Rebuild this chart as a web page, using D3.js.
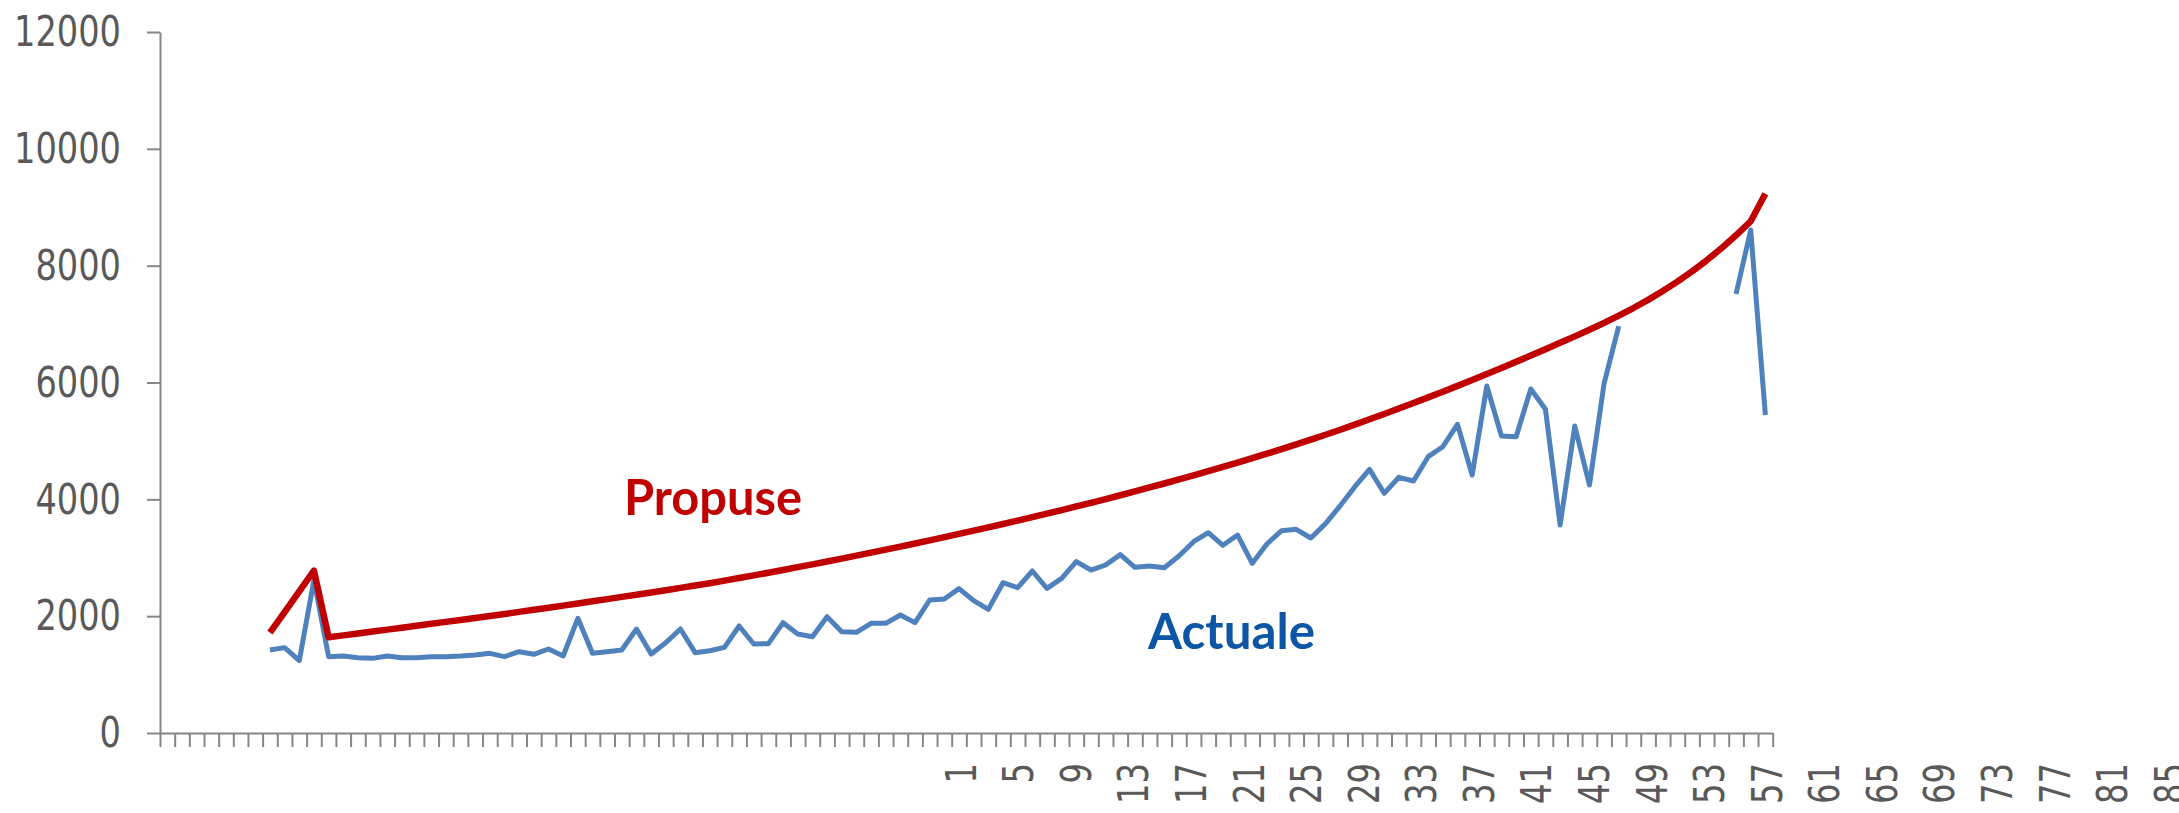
<!DOCTYPE html>
<html>
<head>
<meta charset="utf-8">
<script src="https://cdn.jsdelivr.net/npm/d3@7"></script>
<style>
  body { margin: 0; background: #fff; }
  .ticklabel { font-family: "DejaVu Sans Condensed", "DejaVu Sans", sans-serif; font-stretch: condensed; }
  .serieslabel { font-family: Lato, "Liberation Sans", sans-serif; font-weight: bold; }
</style>
</head>
<body>
<div id="chart"></div>
<script>
const categoryCount = 110;
const categoryLabels = [1, 5, 9, 13, 17, 21, 25, 29, 33, 37, 41, 45, 49, 53, 57, 61, 65, 69, 73, 77, 81, 85];
const yTicks = [0, 2000, 4000, 6000, 8000, 10000, 12000];

const propuse = [
  null, null, null, null, null, null, null,
  1717, 2071, 2424, 2778, 1638, 1671, 1704, 1737, 1770, 1803,
  1836, 1869, 1902, 1935, 1969, 2003, 2038, 2073, 2109, 2145,
  2181, 2218, 2255, 2292, 2330, 2368, 2406, 2445, 2484, 2524,
  2564, 2608, 2653, 2698, 2744, 2791, 2839, 2887, 2936, 2986,
  3036, 3087, 3139, 3191, 3244, 3298, 3353, 3408, 3464, 3521,
  3578, 3636, 3695, 3755, 3816, 3878, 3941, 4005, 4070, 4136,
  4203, 4271, 4340, 4410, 4481, 4554, 4628, 4704, 4781, 4860,
  4940, 5022, 5106, 5192, 5280, 5370, 5461, 5554, 5649, 5745,
  5843, 5942, 6042, 6144, 6248, 6354, 6461, 6569, 6679, 6790,
  6903, 7021, 7145, 7275, 7415, 7565, 7727, 7902, 8092, 8297,
  8520, 8760, 9230
];

const actuale = [
  null, null, null, null, null, null, null,
  1421, 1461, 1238, 2619, 1307, 1318, 1290, 1278, 1318, 1290,
  1290, 1307, 1307, 1318, 1335, 1364, 1307, 1392, 1347, 1438,
  1318, 1963, 1364, 1392, 1421, 1780, 1352, 1546, 1780, 1375,
  1409, 1466, 1832, 1523, 1529, 1889, 1695, 1649, 1991, 1735,
  1723, 1877, 1877, 2020, 1889, 2277, 2294, 2471, 2265, 2117,
  2573, 2488, 2773, 2476, 2648, 2933, 2790, 2876, 3053, 2836,
  2859, 2830, 3030, 3275, 3429, 3213, 3389, 2904, 3235, 3464,
  3486, 3338, 3584, 3890, 4217, 4513, 4103, 4377, 4314, 4730,
  4901, 5284, 4416, 5940, 5084, 5073, 5889, 5541, 3561, 5255,
  4245, 5986, 6967,
  null, null, null, null, null, null, null,
  7515, 8610, 5443
];

function renderChart(containerId) {

  const axisColor = "#868686";
  const textColor = "#595959";
  const propuseColor = "#C00000";
  const actualeColor = "#4F81BD";
  const actualeTextColor = "#0D56A6";

  const width = 2179, height = 813;

  const svg = d3.select(containerId)
    .append("svg")
    .attr("width", width)
    .attr("height", height)
    .style("background", "#fff");

  const x = d3.scaleLinear().domain([0, categoryCount]).range([160, 1772.7]);
  const y = d3.scaleLinear().domain([0, 12000]).range([733, 32]);
  // the category labels run on a slightly tighter step than the ticks
  const labelX = d3.scaleLinear().domain([1, 85]).range([961, 2170]);

  const yAxis = svg.append("g")
    .attr("transform", `translate(${x(0)},0)`)
    .call(d3.axisLeft(y).tickValues(yTicks).tickSize(13).tickSizeOuter(0).tickPadding(26).tickFormat(d3.format("d")));

  const xAxis = svg.append("g")
    .attr("transform", `translate(0,${y(0)})`)
    .call(d3.axisBottom(x).tickValues(d3.range(0, categoryCount + 1)).tickSize(14).tickSizeOuter(0).tickFormat(""));

  [yAxis, xAxis].forEach(g => {
    g.selectAll("path, line").attr("stroke", axisColor).attr("stroke-width", 2);
  });

  // narrow, tall digits like the original
  yAxis.selectAll("text")
    .attr("class", "ticklabel")
    .attr("fill", textColor)
    .attr("font-size", "43px")
    .attr("textLength", d => String(d).length * 21.4)
    .attr("lengthAdjust", "spacingAndGlyphs");

  svg.append("g")
    .selectAll("text")
    .data(categoryLabels)
    .join("text")
    .attr("class", "ticklabel")
    .attr("transform", d => `translate(${labelX(d)},763) rotate(-90)`)
    .attr("text-anchor", "end")
    .attr("dy", "0.35em")
    .attr("fill", textColor)
    .attr("font-size", "42px")
    .attr("textLength", d => String(d).length * 20.5)
    .attr("lengthAdjust", "spacingAndGlyphs")
    .text(d => d);

  const line = d3.line()
    .defined(d => d != null)
    .x((d, i) => x(i + 0.5))
    .y(d => y(d));

  svg.append("path")
    .datum(actuale)
    .attr("fill", "none")
    .attr("stroke", actualeColor)
    .attr("stroke-width", 5)
    .attr("stroke-linejoin", "round")
    .attr("d", line);

  svg.append("path")
    .datum(propuse)
    .attr("fill", "none")
    .attr("stroke", propuseColor)
    .attr("stroke-width", 6.5)
    .attr("stroke-linejoin", "round")
    .attr("d", line);

  svg.append("text")
    .attr("class", "serieslabel")
    .attr("x", 624)
    .attr("y", 515)
    .attr("font-size", "50px")
    .attr("textLength", 178)
    .attr("lengthAdjust", "spacingAndGlyphs")
    .attr("fill", propuseColor)
    .text("Propuse");

  svg.append("text")
    .attr("class", "serieslabel")
    .attr("x", 1148)
    .attr("y", 649)
    .attr("font-size", "50px")
    .attr("textLength", 167)
    .attr("lengthAdjust", "spacingAndGlyphs")
    .attr("fill", actualeTextColor)
    .text("Actuale");
}

renderChart("#chart");
</script>
</body>
</html>
